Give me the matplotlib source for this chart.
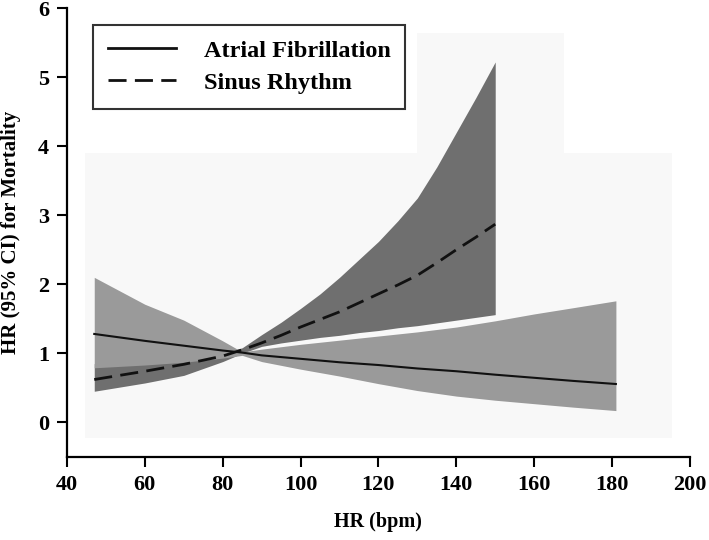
import matplotlib
matplotlib.use("Agg")
import matplotlib.pyplot as plt
from matplotlib.lines import Line2D
from matplotlib.patches import Rectangle

# ---------------- data ----------------
af_x = [47, 60, 70, 80, 85, 90, 100, 110, 120, 130, 140, 150, 160, 170, 181]
af_hr = [1.28, 1.18, 1.11, 1.04, 1.01, 0.97, 0.92, 0.87, 0.83, 0.78, 0.74, 0.69, 0.645, 0.60, 0.555]
af_lo = [0.79, 0.83, 0.87, 0.93, 0.97, 0.88, 0.77, 0.67, 0.56, 0.46, 0.38, 0.32, 0.27, 0.22, 0.17]
af_hi = [2.10, 1.71, 1.48, 1.18, 1.02, 1.06, 1.13, 1.19, 1.25, 1.31, 1.38, 1.47, 1.57, 1.66, 1.76]

sr_x = [47, 60, 70, 80, 85, 90, 95, 100, 105, 110, 115, 120, 125, 130, 135, 140, 145, 150]
sr_hr = [0.62, 0.74, 0.84, 0.96, 1.05, 1.15, 1.26, 1.38, 1.49, 1.60, 1.73, 1.86, 1.99, 2.13, 2.31, 2.50, 2.68, 2.87]
sr_lo = [0.45, 0.57, 0.68, 0.88, 1.00, 1.10, 1.15, 1.19, 1.23, 1.26, 1.30, 1.33, 1.37, 1.40, 1.44, 1.48, 1.52, 1.56]
sr_hi = [0.85, 0.90, 0.95, 1.00, 1.08, 1.27, 1.45, 1.65, 1.86, 2.10, 2.36, 2.62, 2.92, 3.25, 3.70, 4.20, 4.70, 5.22]

x_ticks = [40, 60, 80, 100, 120, 140, 160, 180, 200]
y_ticks = [0, 1, 2, 3, 4, 5, 6]
legend_labels = ["Atrial Fibrillation", "Sinus Rhythm"]

# ---------------- figure ----------------
serif = ["Liberation Serif", "DejaVu Serif"]
plt.rcParams["font.family"] = serif
plt.rcParams["font.weight"] = "bold"

fig = plt.figure(figsize=(7.09, 5.40), dpi=100)
ax = fig.add_axes([0.0945, 0.154, 0.8785, 0.831])

# faint background plot-area rectangles
bg = "#f8f8f8"
ax.add_patch(Rectangle((44.5, -0.22), 195.4 - 44.5, 3.9 + 0.22, facecolor=bg, edgecolor="none", zorder=0))
ax.add_patch(Rectangle((130, 3.8), 167.6 - 130, 5.64 - 3.8, facecolor=bg, edgecolor="none", zorder=0))

ax.fill_between(sr_x, sr_lo, sr_hi, color="#6f6f6f", linewidth=0, zorder=1)
ax.fill_between(af_x, af_lo, af_hi, color="#9a9a9a", linewidth=0, zorder=2)

ax.plot(af_x, af_hr, color="#111111", lw=1.5, zorder=3)
ax.plot(sr_x, sr_hr, color="#111111", lw=2.0, dashes=(6.5, 3), zorder=4)

ax.set_xlim(40, 200)
ax.set_ylim(-0.5, 6)
ax.set_xticks(x_ticks)
ax.set_yticks(y_ticks)
for s in ["top", "right"]:
    ax.spines[s].set_visible(False)
for s in ["left", "bottom"]:
    ax.spines[s].set_linewidth(1.6)
ax.tick_params(direction="out", length=7, width=1.5, labelsize=16, pad=6)
for lab in ax.get_xticklabels() + ax.get_yticklabels():
    lab.set_fontweight("bold")

ax.set_xlabel("HR (bpm)", fontsize=14.5, fontweight="bold", labelpad=12)
ax.set_ylabel("HR (95% CI) for Mortality", fontsize=15, fontweight="bold", labelpad=12)

handles = [Line2D([0], [0], color="#111111", lw=2),
           Line2D([0], [0], color="#111111", lw=2, dashes=(6.5, 3))]
leg = ax.legend(handles, legend_labels, loc="upper left", bbox_to_anchor=(0.042, 0.962),
                borderaxespad=0, fancybox=False, frameon=True, handlelength=2.8,
                prop={"family": serif, "weight": "bold", "size": 17.5}, borderpad=0.6,
                labelspacing=0.42, handletextpad=1.15)
leg.get_frame().set_edgecolor("black")
leg.get_frame().set_linewidth(1.5)

fig.savefig("out.png", dpi=100, facecolor="white")
